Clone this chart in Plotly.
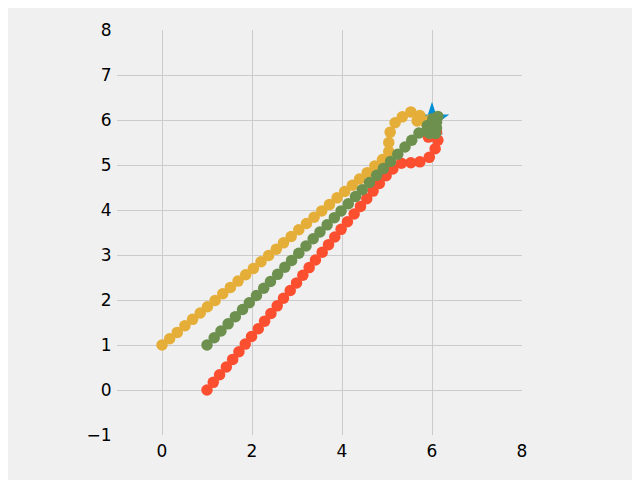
import plotly.graph_objects as go

# target point
target_x = [6.0]
target_y = [6.0]

# series 1 (yellow)
yellow_x = [0.00, 0.17, 0.34, 0.51, 0.68, 0.85, 1.01, 1.18, 1.35, 1.52, 1.69, 1.86, 2.03, 2.20, 2.37,
            2.54, 2.70, 2.87, 3.04, 3.21, 3.38, 3.55, 3.72, 3.89, 4.06, 4.23, 4.39, 4.56, 4.73, 4.90,
            5.04, 5.04, 5.07, 5.18, 5.34, 5.53, 5.73, 5.67, 5.85, 5.95, 6.00, 5.92]
yellow_y = [1.00, 1.14, 1.28, 1.43, 1.57, 1.71, 1.85, 1.99, 2.14, 2.28, 2.42, 2.56, 2.70, 2.85, 2.99,
            3.13, 3.27, 3.41, 3.56, 3.70, 3.84, 3.98, 4.12, 4.27, 4.41, 4.55, 4.69, 4.83, 4.98, 5.12,
            5.30, 5.50, 5.73, 5.94, 6.07, 6.18, 6.10, 5.98, 5.95, 6.00, 5.90, 5.85]

# series 2 (red)
red_x = [1.00, 1.14, 1.28, 1.43, 1.57, 1.71, 1.85, 1.99, 2.14, 2.28, 2.42, 2.56, 2.70, 2.85, 2.99,
         3.13, 3.27, 3.41, 3.56, 3.70, 3.84, 3.98, 4.12, 4.27, 4.41, 4.55, 4.69, 4.83, 4.98, 5.13,
         5.32, 5.53, 5.73, 5.94, 6.07, 6.13, 6.10, 5.92, 5.98, 6.02, 5.95, 6.05]
red_y = [0.00, 0.17, 0.34, 0.51, 0.68, 0.85, 1.02, 1.19, 1.36, 1.53, 1.70, 1.87, 2.04, 2.21, 2.38,
         2.55, 2.72, 2.89, 3.06, 3.23, 3.40, 3.57, 3.74, 3.91, 4.08, 4.25, 4.42, 4.59, 4.76, 4.91,
         5.04, 5.05, 5.07, 5.17, 5.36, 5.55, 5.73, 5.62, 5.80, 5.85, 5.75, 5.90]

# series 3 (green)
green_x = [1.00, 1.16, 1.31, 1.47, 1.63, 1.79, 1.94, 2.10, 2.26, 2.41, 2.57, 2.73, 2.88, 3.04, 3.20,
           3.36, 3.51, 3.67, 3.83, 3.98, 4.14, 4.30, 4.45, 4.61, 4.77, 4.92, 5.08, 5.24, 5.40, 5.55,
           5.71, 5.88, 5.99, 6.13, 6.10, 6.05, 5.95, 6.08, 5.90, 6.02, 6.10, 5.93]
green_y = [1.00, 1.16, 1.31, 1.47, 1.63, 1.79, 1.94, 2.10, 2.26, 2.41, 2.57, 2.73, 2.88, 3.04, 3.20,
           3.36, 3.51, 3.67, 3.83, 3.98, 4.14, 4.30, 4.45, 4.61, 4.77, 4.92, 5.08, 5.24, 5.40, 5.55,
           5.71, 5.75, 5.86, 6.08, 5.82, 5.97, 5.70, 5.70, 5.88, 6.03, 5.95, 5.80]

x_ticks = [0, 2, 4, 6, 8]
y_ticks = [-1, 0, 1, 2, 3, 4, 5, 6, 7, 8]

BG = "#f0f0f0"
GRID = "#cbcbcb"

fig = go.Figure()
fig.add_trace(go.Scatter(x=target_x, y=target_y, mode="markers",
                         marker=dict(symbol="star", size=26, color="#008fd5", line=dict(width=0)),
                         showlegend=False))
fig.add_trace(go.Scatter(x=red_x, y=red_y, mode="markers",
                         marker=dict(size=11.5, color="#fc4f30", line=dict(width=0)), showlegend=False))
fig.add_trace(go.Scatter(x=yellow_x, y=yellow_y, mode="markers",
                         marker=dict(size=11.5, color="#e5ae38", line=dict(width=0)), showlegend=False))
fig.add_trace(go.Scatter(x=green_x, y=green_y, mode="markers",
                         marker=dict(size=11.5, color="#6d904f", line=dict(width=0)), showlegend=False))

fig.update_layout(
    width=632, height=472,
    margin=dict(l=109, r=118, t=22, b=45, pad=0),
    paper_bgcolor=BG, plot_bgcolor=BG,
    font=dict(family="DejaVu Sans", size=17, color="#000000"),
    xaxis=dict(range=[-1, 8], tickvals=x_ticks, ticktext=[str(v) for v in x_ticks],
               showgrid=True, gridcolor=GRID, gridwidth=1, zeroline=False, showline=False,
               ticks="outside", ticklen=1, tickcolor="rgba(0,0,0,0)"),
    yaxis=dict(range=[-1, 8], tickvals=y_ticks,
               ticktext=[("\u2212" + str(-v)) if v < 0 else str(v) for v in y_ticks],
               showgrid=True, gridcolor=GRID, gridwidth=1, zeroline=False, showline=False,
               ticks="outside", ticklen=1, tickcolor="rgba(0,0,0,0)"),
)

fig.write_html("out.html")
